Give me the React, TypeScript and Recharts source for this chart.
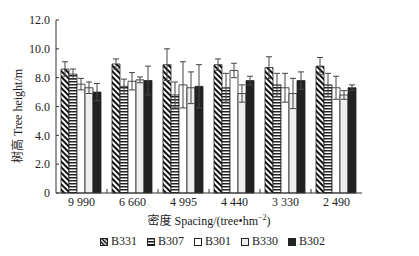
import { BarChart, Bar, XAxis, YAxis, ErrorBar, Legend } from 'recharts';

const categories = ['9 990', '6 660', '4 995', '4 440', '3 330', '2 490'];
const b331 = [8.6, 8.95, 8.9, 8.9, 8.7, 8.8];
const b331Err = [0.5, 0.35, 1.1, 0.4, 0.75, 0.6];
const b307 = [8.25, 7.4, 6.8, 7.3, 7.5, 7.5];
const b307Err = [0.35, 0.5, 0.9, 1.0, 0.8, 0.8];
const b301 = [7.55, 7.75, 7.5, 8.5, 7.3, 7.3];
const b301Err = [0.4, 0.6, 1.6, 0.5, 1.0, 0.8];
const b330 = [7.3, 7.85, 7.3, 6.9, 6.9, 6.8];
const b330Err = [0.4, 0.2, 1.1, 0.6, 1.05, 0.3];
const b302 = [7.0, 7.8, 7.4, 7.8, 7.8, 7.3];
const b302Err = [0.6, 1.0, 1.5, 0.3, 0.6, 0.2];
const yTicks = [0, 2, 4, 6, 8, 10, 12];

const data = categories.map((c, i) => ({
  spacing: c,
  B331: b331[i],
  B331Err: b331Err[i],
  B307: b307[i],
  B307Err: b307Err[i],
  B301: b301[i],
  B301Err: b301Err[i],
  B330: b330[i],
  B330Err: b330Err[i],
  B302: b302[i],
  B302Err: b302Err[i],
}));

const font = '"Liberation Serif", "Times New Roman", "Noto Sans CJK SC", serif';
const ink = '#333';

const series = [
  { key: 'B331', fill: 'url(#diag)' },
  { key: 'B307', fill: 'url(#horiz)' },
  { key: 'B301', fill: '#fff' },
  { key: 'B330', fill: '#eee' },
  { key: 'B302', fill: '#222' },
];

const XTick = (props: any) => {
  const { x, y, payload, index } = props;
  const half = 51 / 2;
  return (
    <g>
      {index > 0 && (
        <line x1={x - half} x2={x - half} y1={y} y2={y - 4} stroke={ink} strokeWidth={1} />
      )}
      <text x={x} y={y + 13} textAnchor="middle" fontSize={12} fontFamily={font} fill="#222">
        {payload.value}
      </text>
    </g>
  );
};

const XLabel = (props: any) => {
  const { viewBox } = props;
  const cx = viewBox.x + viewBox.width / 2;
  return (
    <text x={cx} y={225} textAnchor="middle" fontSize={12} fontFamily={font} fill="#222">
      <tspan>密度  Spacing/(tree•hm</tspan>
      <tspan dy={-5} fontSize={8}>−2</tspan>
      <tspan dy={5}>)</tspan>
    </text>
  );
};

const YLabel = () => (
  <text
    x={18}
    y={116}
    transform="rotate(-90 18 116)"
    textAnchor="middle"
    dominantBaseline="central"
    fontSize={12}
    fontFamily={font}
    fill="#222"
  >
    树高 Tree height/m
  </text>
);

const LegendContent = () => (
  <div
    style={{
      display: 'flex',
      justifyContent: 'center',
      alignItems: 'center',
      gap: 10,
      height: 27,
      paddingBottom: 2,
      boxSizing: 'border-box',
      fontFamily: font,
      fontSize: 12,
      color: '#222',
      marginLeft: 6,
    }}
  >
    {series.map((s) => (
      <div key={s.key} style={{ display: 'flex', alignItems: 'center', gap: 3 }}>
        <svg width={8} height={8} style={{ display: 'block' }}>
          <defs>
            <pattern id={`lg-${s.key}`} width="3" height="3" patternUnits="userSpaceOnUse"
              patternTransform={s.key === 'B331' ? 'rotate(-45)' : undefined}>
              <rect width="3" height="3" fill="#fff" />
              {s.key === 'B331' && <rect width="1.6" height="3" fill="#111" />}
              {s.key === 'B307' && <rect width="3" height="1.5" fill="#111" />}
            </pattern>
          </defs>
          <rect
            x={0.5}
            y={0.5}
            width={7}
            height={7}
            fill={s.key === 'B331' || s.key === 'B307' ? `url(#lg-${s.key})` : s.fill}
            stroke="#222"
            strokeWidth={1}
          />
        </svg>
        <span>{s.key}</span>
      </div>
    ))}
  </div>
);

export default function App() {
  return (
    <div style={{ position: 'absolute', left: 0, top: 0, background: '#fff' }}>
      <BarChart
        width={419}
        height={256}
        data={data}
        margin={{ top: 20, right: 57, left: 0, bottom: 0 }}
        barCategoryGap={5}
        barGap={0}
      >
        <defs>
          <pattern id="diag" width="4" height="4" patternUnits="userSpaceOnUse" patternTransform="rotate(-45)">
            <rect width="4" height="4" fill="#fff" />
            <rect width="2" height="4" fill="#111" />
          </pattern>
          <pattern id="horiz" width="3" height="3" patternUnits="userSpaceOnUse">
            <rect width="3" height="3" fill="#fff" />
            <rect width="3" height="1.5" fill="#222" />
          </pattern>
        </defs>
        <XAxis
          dataKey="spacing"
          height={36}
          tickSize={0}
          tickMargin={0}
          tickLine={false}
          axisLine={{ stroke: ink }}
          tick={<XTick />}
          interval={0}
          label={<XLabel />}
        />
        <YAxis
          width={56}
          domain={[0, 12]}
          ticks={yTicks}
          interval={0}
          tickSize={-3}
          tickMargin={9}
          axisLine={{ stroke: ink }}
          tickLine={{ stroke: ink }}
          tick={{ fontSize: 12, fontFamily: font, fill: '#222' }}
          tickFormatter={(v: number) => (v === 0 ? '0' : v.toFixed(1))}
          label={<YLabel />}
        />
        <Legend
          verticalAlign="bottom"
          height={27}
          wrapperStyle={{ left: 0, width: 419 }}
          content={<LegendContent />}
        />
        {series.map((s) => (
          <Bar
            key={s.key}
            dataKey={s.key}
            fill={s.fill}
            stroke="#222"
            strokeWidth={0.8}
            isAnimationActive={false}
          >
            <ErrorBar dataKey={`${s.key}Err`} width={3} stroke="#444" strokeWidth={1} direction="y" />
          </Bar>
        ))}
      </BarChart>
    </div>
  );
}
